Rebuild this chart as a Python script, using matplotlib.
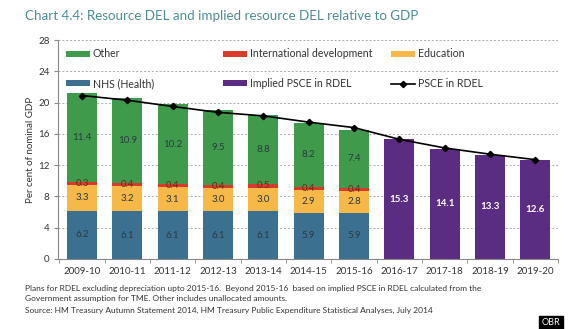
import matplotlib
matplotlib.use("Agg")
import matplotlib.pyplot as plt
from matplotlib.legend import Legend
import numpy as np

years = ["2009-10", "2010-11", "2011-12", "2012-13", "2013-14", "2014-15",
         "2015-16", "2016-17", "2017-18", "2018-19", "2019-20"]
nhs = [6.2, 6.1, 6.1, 6.1, 6.1, 5.9, 5.9]
education = [3.3, 3.2, 3.1, 3.0, 3.0, 2.9, 2.8]
intl_dev = [0.3, 0.4, 0.4, 0.4, 0.5, 0.4, 0.4]
other = [11.4, 10.9, 10.2, 9.5, 8.8, 8.2, 7.4]
implied = [15.3, 14.1, 13.3, 12.6]
psce = [20.9, 20.3, 19.5, 18.75, 18.3, 17.5, 16.8, 15.3, 14.2, 13.4, 12.7]
yticks = [0, 4, 8, 12, 16, 20, 24, 28]

plt.rcParams['font.family'] = ['Lato', 'DejaVu Sans']

c_green = "#3f9b4b"
c_red = "#d83a2c"
c_edu = "#f6b847"
c_nhs = "#3c7090"
c_pur = "#5b2d82"

fig = plt.figure(figsize=(5.7, 3.29), dpi=100)
ax = fig.add_axes([58/570, 1-259/329, 500/570, 219/329])

x = np.arange(len(years))
xs = x[:len(nhs)]
xi = x[len(nhs):]
w = 0.66

nhs_a = np.array(nhs); edu_a = np.array(education); red_a = np.array(intl_dev); oth_a = np.array(other)
b_nhs = ax.bar(xs, nhs_a, w, color=c_nhs, label="NHS (Health)", zorder=2)
b_edu = ax.bar(xs, edu_a, w, bottom=nhs_a, color=c_edu, label="Education", zorder=2)
b_red = ax.bar(xs, red_a, w, bottom=nhs_a+edu_a, color=c_red, label="International development", zorder=2)
b_oth = ax.bar(xs, oth_a, w, bottom=nhs_a+edu_a+red_a, color=c_green, label="Other", zorder=2)
b_imp = ax.bar(xi, implied, w, color=c_pur, label="Implied PSCE in RDEL", zorder=2)
ln, = ax.plot(x, psce, color="black", lw=1.2, marker="D", ms=3.2, label="PSCE in RDEL", zorder=4)

tc = "#2b3a40"
for i in range(len(nhs)):
    ax.text(xs[i], nhs_a[i]/2, f"{nhs[i]:.1f}", ha="center", va="center", fontsize=7, color=tc, zorder=5)
    ax.text(xs[i], nhs_a[i]+edu_a[i]/2, f"{education[i]:.1f}", ha="center", va="center", fontsize=7, color=tc, zorder=5)
    ax.text(xs[i], nhs_a[i]+edu_a[i]+red_a[i]/2, f"{intl_dev[i]:.1f}", ha="center", va="center", fontsize=7, color="#6a2a1a", zorder=5)
    ax.text(xs[i], nhs_a[i]+edu_a[i]+red_a[i]+oth_a[i]/2, f"{other[i]:.1f}", ha="center", va="center", fontsize=7, color=tc, zorder=5)
for j, v in enumerate(implied):
    ax.text(xi[j], v/2, f"{v:.1f}", ha="center", va="center", fontsize=7, color="white", fontweight="bold", zorder=5)

ax.set_xlim(-0.53, len(years)-0.5)
ax.set_ylim(0, 28)
ax.set_yticks(yticks)
ax.set_yticklabels([str(t) for t in yticks], fontsize=7, color="#333333")
ax.set_xticks(x)
ax.set_xticklabels(years, fontsize=7, color="#333333")
ax.tick_params(axis="x", length=0, pad=6)
ax.set_xticks(np.arange(-0.5, len(years), 1.0), minor=True)
ax.tick_params(axis="x", which="minor", length=3, color="#888888", direction="out")
ax.tick_params(axis="y", length=3, color="#888888", pad=3)
ax.grid(axis="y", color="#aaaaaa", ls=(0, (2, 2)), lw=0.7, zorder=0)
for s in ["top", "right"]:
    ax.spines[s].set_visible(False)
ax.spines["left"].set_color("#888888")
ax.spines["bottom"].set_color("#888888")
ax.set_ylabel("Per cent of nominal GDP", fontsize=7, color="#333333", labelpad=2)

# legend: three columns at fixed positions, two rows
cols = [([b_oth, b_nhs], ["Other", "NHS (Health)"], 0.0),
        ([b_red, b_imp], ["International development", "Implied PSCE in RDEL"], 0.314),
        ([b_edu, ln], ["Education", "PSCE in RDEL"], 0.65)]
for hs, ls, xpos in cols:
    lg = Legend(ax, hs, ls, ncol=1, loc="upper left", bbox_to_anchor=(xpos, 1.0),
                frameon=False, fontsize=7.6, handlelength=2.2, handleheight=0.5,
                labelspacing=1.75, handletextpad=0.3, borderaxespad=0.4)
    for t in lg.get_texts():
        t.set_color("#333333")
    ax.add_artist(lg)

fig.text(25/570, 1-16/329, "Chart 4.4: Resource DEL and implied resource DEL relative to GDP",
         fontsize=9.6, color="#4b8c99", ha="left", va="center")
fig.text(25/570, 1-288/329, "Plans for RDEL excluding depreciation upto 2015-16.  Beyond 2015-16  based on implied PSCE in RDEL calculated from the",
         fontsize=6, color="#333333", ha="left", va="center")
fig.text(25/570, 1-299/329, "Government assumption for TME. Other includes unallocated amounts.",
         fontsize=6, color="#333333", ha="left", va="center")
fig.text(25/570, 1-310/329, "Source: HM Treasury Autumn Statement 2014, HM Treasury Public Expenditure Statistical Analyses, July 2014",
         fontsize=6, color="#333333", ha="left", va="center")
fig.text(551/570, 1-322.5/329, "OBR", fontsize=6.5, color="white", ha="center", va="center",
         bbox=dict(boxstyle="square,pad=0.25", fc="black", ec="black"))

fig.savefig("out.png", dpi=100)
